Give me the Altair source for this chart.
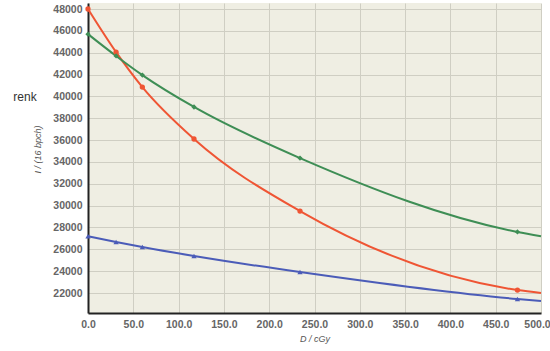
import altair as alt
import pandas as pd

# Dose values (cGy) and intensities for each colour channel
dose = [0, 31, 60, 117, 234, 474]
red_vals = [48000, 44050, 40850, 36100, 29500, 22270]
green_vals = [45700, 43700, 41950, 39030, 34350, 27590]
blue_vals = [27200, 26670, 26210, 25390, 23920, 21450]

# curve end values at D = 500
curve_end_x = 500
red_end = 22000
green_end = 27200
blue_end = 21270

x_ticks = [0, 50, 100, 150, 200, 250, 300, 350, 400, 450, 500]
y_ticks = [22000, 24000, 26000, 28000, 30000, 32000, 34000, 36000, 38000, 40000,
           42000, 44000, 46000, 48000]

series = [("red", red_vals, red_end), ("green", green_vals, green_end), ("blue", blue_vals, blue_end)]

pts_rows = []
line_rows = []
for name, vals, end in series:
    for d, v in zip(dose, vals):
        pts_rows.append({"ch": name, "D": d, "I": v})
        line_rows.append({"ch": name, "D": d, "I": v})
    line_rows.append({"ch": name, "D": curve_end_x, "I": end})
pts = pd.DataFrame(pts_rows)
lines = pd.DataFrame(line_rows)

line_colors = alt.Scale(domain=["red", "green", "blue"], range=["#EF5534", "#3E8E55", "#4B5CB8"])
pt_colors = alt.Scale(domain=["red", "green", "blue"], range=["#A8322A", "#2F6B3E", "#2A3470"])
shapes = alt.Scale(domain=["red", "green", "blue"], range=["circle", "diamond", "triangle-up"])

common_axis = dict(labelFontSize=10.5, labelFontWeight="bold", labelColor="#666",
                   labelPadding=6, tickSize=0, domainColor="#222", domainWidth=2,
                   gridColor="#CFCEC3", gridWidth=1, labelOverlap=False,
                   labelFlush=False, labelBound=False,
                   titleFontStyle="italic", titleFontWeight="normal", titleFontSize=9,
                   titleColor="#555")

xenc = alt.X("D:Q", scale=alt.Scale(domain=[0, 500], nice=False),
             axis=alt.Axis(values=x_ticks, tickCount=len(x_ticks), format=".1f",
                           title="D / cGy", titleY=21,
                           labelOffset=alt.ExprRef(expr="datum.value == 500 ? -4 : 0"),
                           **common_axis))
yenc = alt.Y("I:Q", scale=alt.Scale(domain=[20170, 48550], nice=False, zero=False),
             axis=alt.Axis(values=y_ticks, tickCount=len(y_ticks), format="d",
                           title="I / (16 bpch)",
                           titleX=-46, titleY=146, titleAngle=-90, **common_axis))

line_layer = alt.Chart(lines).mark_line(interpolate="monotone", strokeWidth=2).encode(
    x=xenc, y=yenc,
    color=alt.Color("ch:N", scale=line_colors, legend=None),
    detail="ch:N",
)
pt_layer = alt.Chart(pts).mark_point(filled=True, size=28, opacity=1).encode(
    x="D:Q", y="I:Q",
    color=alt.Color("ch:N", scale=pt_colors, legend=None),
    shape=alt.Shape("ch:N", scale=shapes, legend=None),
)
renk = alt.Chart(pd.DataFrame({"t": ["renk"]})).mark_text(
    fontSize=12, color="#333", align="center", baseline="middle", font="Liberation Sans"
).encode(x=alt.value(-63), y=alt.value(94), text="t:N")

chart = alt.layer(line_layer, pt_layer, renk).properties(
    width=453, height=310,
    autosize=alt.AutoSizeParams(type="none"),
    padding={"left": 88, "top": 3, "right": 9, "bottom": 38},
    background="white",
).configure_view(fill="#EFEEE3", stroke=None).configure_axis(
    labelFont="Liberation Sans", titleFont="Liberation Sans"
)

chart.save("out.html", embed_options={"renderer": "svg", "actions": False})
